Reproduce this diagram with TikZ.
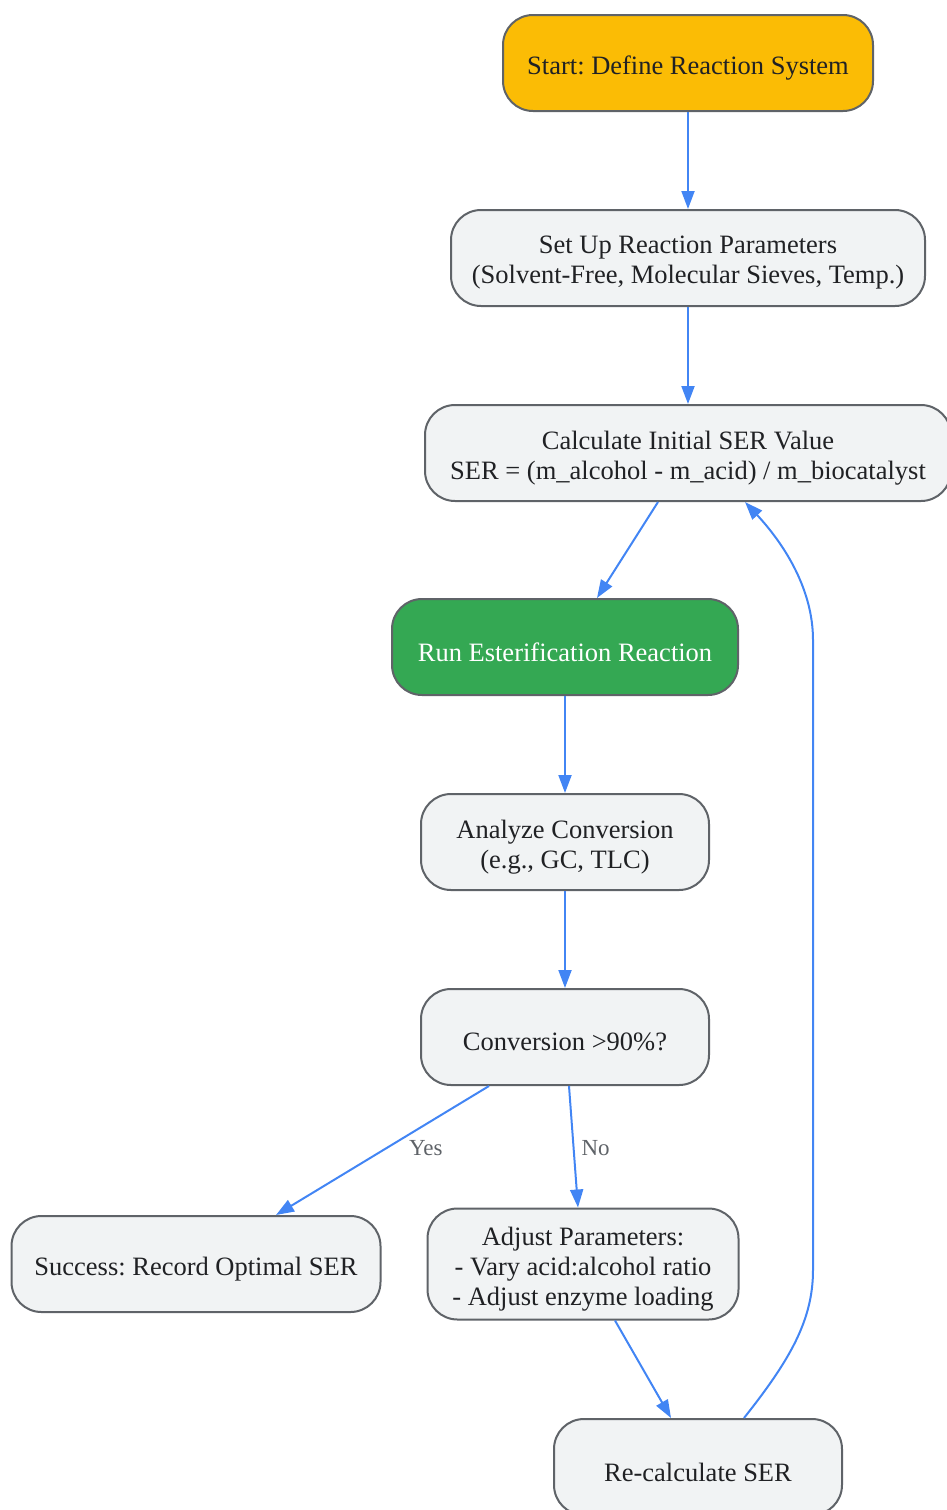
\documentclass[tikz,border=0pt]{standalone}
\usepackage{fontspec}
\setmainfont{Liberation Serif}
\usepackage{tikz}
\usetikzlibrary{arrows.meta,positioning,calc}
\definecolor{startyellow}{HTML}{FBBC05}
\definecolor{rungreen}{HTML}{34A853}
\definecolor{boxgray}{HTML}{F1F3F4}
\definecolor{edgegray}{HTML}{5F6368}
\definecolor{flowblue}{HTML}{4285F4}
\definecolor{textdark}{HTML}{202124}
\frenchspacing

\begin{document}
\begin{tikzpicture}[x=1pt, y=-1pt,
        stepnode/.style={rectangle, rounded corners=30pt, draw=edgegray, fill=boxgray,
            line width=2pt, minimum height=96pt, align=center, text=textdark,
            font=\fontsize{26.5}{30}\selectfont,
            execute at begin node={\setbox0=\hbox\bgroup},
            execute at end node={\egroup\ht0=\dimexpr\ht0+10pt\relax\box0}},
        flow/.style={draw=flowblue, line width=2pt, -{Triangle[length=18pt,width=13pt]}},
        lbl/.style={text=edgegray, font=\fontsize{23}{26}\selectfont}]
        \useasboundingbox (0, 0) rectangle (946, 1510);
        \node [stepnode, fill=startyellow, minimum width=370pt] at (688, 63)  (start)   {Start: Define Reaction System};
        \node [stepnode, minimum width=474pt] at (688, 258) (setup)   {Set Up Reaction Parameters\\(Solvent-Free, Molecular Sieves, Temp.)};
        \node [stepnode, minimum width=526pt] at (688, 453) (calc)    {Calculate Initial SER Value\\SER = (m\_alcohol - m\_acid) / m\_biocatalyst};
        \node [stepnode, fill=rungreen, text=white, minimum width=346pt] at (565, 647) (run) {Run Esterification Reaction};
        \node [stepnode, minimum width=288pt] at (565, 842) (analyze) {Analyze Conversion\\(e.g., GC, TLC)};
        \node [stepnode, minimum width=288pt] at (565, 1037) (conv)   {Conversion >90\%?};
        \node [stepnode, minimum width=369pt] at (196, 1264) (success) {Success: Record Optimal SER};
        \node [stepnode, minimum width=311pt, minimum height=111pt] at (583, 1264) (adjust) {Adjust Parameters:\\- Vary acid:alcohol ratio\\- Adjust enzyme loading};
        \node [stepnode, minimum width=288pt] at (698, 1467) (recalc) {Re-calculate SER};
        % connectors
        \draw [flow] (start) -- (setup);
        \draw [flow] (setup) -- (calc);
        \draw [flow] ([xshift=-30pt]calc.south) -- ([xshift=32pt]run.north);
        \draw [flow] (run) -- (analyze);
        \draw [flow] (analyze) -- (conv);
        \draw [flow] ([xshift=-76pt]conv.south) -- node [lbl, pos=0.48, xshift=39pt] {Yes} ([xshift=80pt]success.north);
        \draw [flow] ([xshift=4pt]conv.south) -- node [lbl, pos=0.51, xshift=22pt] {No} ([xshift=-5pt]adjust.north);
        \draw [flow] ([xshift=32pt]adjust.south) -- ([xshift=-27pt]recalc.north);
        % loop back to the SER calculation
        \draw [flow] ([xshift=46pt]recalc.north) .. controls (790, 1360) and (813, 1320) .. (813, 1270)
            -- (813, 640) .. controls (813, 590) and (785, 545) .. ([xshift=57pt]calc.south);
    \end{tikzpicture}
\end{document}
